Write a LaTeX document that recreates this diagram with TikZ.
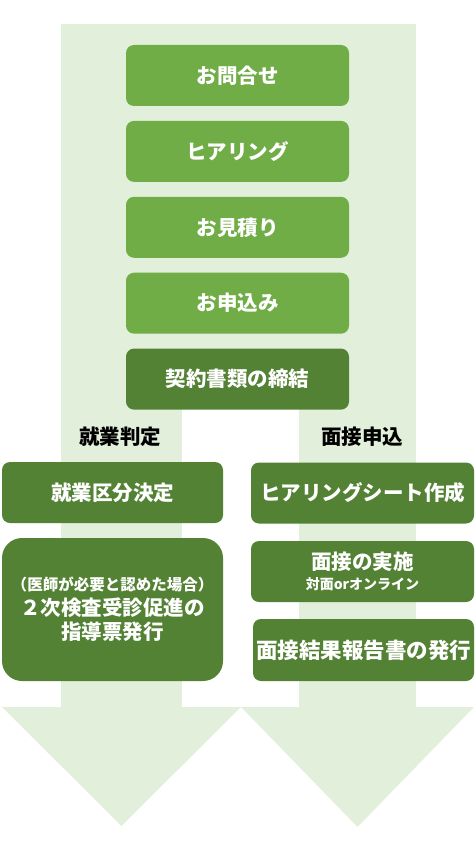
\documentclass[tikz,border=0pt]{standalone}
\usepackage{fontspec}
\setmainfont{Noto Sans CJK JP}
\usetikzlibrary{positioning}
\definecolor{bandgreen}{HTML}{E2EFDA}
\definecolor{boxlight}{HTML}{70AD47}
\definecolor{boxdark}{HTML}{548235}
\begin{document}
\begin{tikzpicture}[x=1pt,y=-1pt,
  node distance=14.5pt,
  every node/.style={font=\bfseries\fontsize{20.5}{24.5}\selectfont,inner sep=0pt},
  box/.style={rounded corners=8pt,text=white,minimum width=223pt,minimum height=61pt,align=center},
  lightbox/.style={box,fill=boxlight},
  darkbox/.style={box,fill=boxdark}]
\useasboundingbox (0,0) rectangle (474,842);
% background arrows
\fill[bandgreen] (61,24) rectangle (416,409);
\fill[bandgreen] (61,409) rectangle (182,708);
\fill[bandgreen] (299,409) rectangle (416,708);
\fill[bandgreen] (2,707) -- (241,707) -- (121.5,826) -- cycle;
\fill[bandgreen] (241,707) -- (474,707) -- (357.5,827) -- cycle;
% common steps
\node[lightbox] (inquiry) at (237.5,75.5) {お問合せ};
\node[lightbox,below=of inquiry] (hearing) {ヒアリング};
\node[lightbox,below=of hearing] (estimate) {お見積り};
\node[lightbox,below=of estimate] (apply) {お申込み};
\node[darkbox,below=of apply] (contract) {契約書類の締結};
% two branches
\node (judge) at (120,437) {就業判定};
\node (interview) at (362,437) {面接申込};
\node[darkbox,minimum width=221pt] (category) at (112.5,492.5) {就業区分決定};
\node[darkbox,minimum width=221pt,minimum height=143pt,rounded corners=20pt] (slip) at (112.5,609.5)
  {{\fontsize{15.5}{20}\selectfont（医師が必要と認めた場合）}\\２次検査受診促進の\\指導票発行};
\node[darkbox] (sheet) at (362.5,493) {ヒアリングシート作成};
\node[darkbox] (meeting) at (362.5,571.5) {面接の実施\\[-4pt]{\fontsize{14}{16}\selectfont 対面orオンライン}};
\node[darkbox,minimum width=221pt,minimum height=62pt,font=\bfseries\fontsize{21.5}{26}\selectfont] (report) at (363.5,650) {面接結果報告書の発行};
\end{tikzpicture}
\end{document}
